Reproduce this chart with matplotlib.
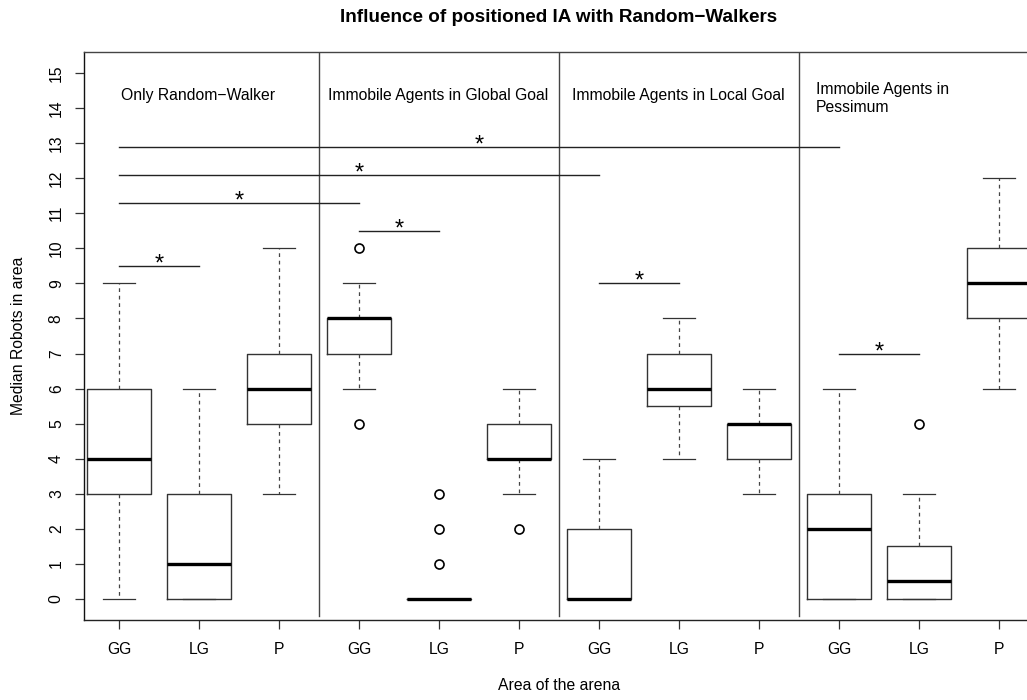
import matplotlib
matplotlib.use('Agg')
import matplotlib.pyplot as plt

plt.rcParams['font.family'] = ['Liberation Sans', 'DejaVu Sans']

# box statistics (12 boxes, 4 groups of GG/LG/P)
tick_labels = ['GG', 'LG', 'P'] * 4
whisker_lo = [0, 0, 3, 6, 0, 3, 0, 4, 3, 0, 0, 6]
q1 = [3, 0, 5, 7, 0, 4, 0, 5.5, 4, 0, 0, 8]
medians = [4, 1, 6, 8, 0, 4, 0, 6, 5, 2, 0.5, 9]
q3 = [6, 3, 7, 8, 0, 5, 2, 7, 5, 3, 1.5, 10]
whisker_hi = [9, 6, 10, 9, 0, 6, 4, 8, 6, 6, 3, 12]
outliers = [[], [], [], [5, 10], [1, 2, 3], [2], [], [], [], [], [5], []]

group_names = ['Only Random\u2212Walker', 'Immobile Agents in Global Goal',
               'Immobile Agents in Local Goal', 'Immobile Agents in\nPessimum']
group_label_x = [1.02, 3.61, 6.66, 9.71]
group_label_y = [14.37, 14.37, 14.37, 14.27]
separators = [3.5, 6.5, 9.5]

# significance bars: from box, to box, height
sig_from = [1, 1, 1, 1, 4, 7, 10]
sig_to = [2, 4, 7, 10, 5, 8, 11]
sig_y = [9.5, 11.3, 12.1, 12.9, 10.5, 9.0, 7.0]

fs = 11.3

fig = plt.figure(figsize=(10.27, 7.0), dpi=100)
# plot region runs slightly past the right edge, like the original
ax = fig.add_axes([84 / 1027, 80 / 700, 950 / 1027, 568 / 700])

stats = []
for i in range(len(medians)):
    stats.append({'whislo': whisker_lo[i], 'q1': q1[i], 'med': medians[i],
                  'q3': q3[i], 'whishi': whisker_hi[i], 'fliers': outliers[i]})

pos = list(range(1, len(medians) + 1))
ax.bxp(stats, positions=pos, widths=0.8, showfliers=True,
       boxprops=dict(color='#333333', linewidth=1.0),
       medianprops=dict(color='black', linewidth=2.4, solid_capstyle='butt'),
       whiskerprops=dict(color='#444444', linewidth=0.9, linestyle=(0, (3, 3))),
       capprops=dict(color='#333333', linewidth=0.9),
       capwidths=0.4,
       flierprops=dict(marker='o', markersize=6.5, markerfacecolor='none',
                       markeredgecolor='black', markeredgewidth=1.2))

for xs in separators:
    ax.plot([xs, xs], [-0.5, 15.6], color='#444444', lw=1.0)

for a, b, y in zip(sig_from, sig_to, sig_y):
    ax.plot([a, b], [y, y], color='#222222', lw=1.0)
    ax.text((a + b) / 2, y + 0.04, '*', ha='center', va='center',
            fontsize=17, color='black')

for x, y, name in zip(group_label_x, group_label_y, group_names):
    ax.text(x, y, name, ha='left', va='center', fontsize=fs,
            linespacing=1.2)

ax.set_xlim(0.56, 12.44)
ax.set_ylim(-0.6, 15.6)
ax.set_xticks(pos)
ax.set_xticklabels(tick_labels)
ax.set_yticks(range(0, 16))
ax.set_yticklabels([str(v) for v in range(0, 16)], rotation=90, va='center')
ax.tick_params(axis='both', direction='out', length=6.5, width=0.9,
               labelsize=fs, color='#333333')
ax.tick_params(axis='x', pad=9)
ax.tick_params(axis='y', pad=8)
for s in ax.spines.values():
    s.set_linewidth(1.0)
    s.set_color('#444444')
ax.spines['left'].set_color('#111111')
ax.spines['bottom'].set_color('#222222')

cx = (84 + 475) / 1027
fig.text(cx, 1 - 18 / 700, 'Influence of positioned IA with Random\u2212Walkers',
         ha='center', va='center', fontsize=fs * 1.2, fontweight='bold')
fig.text(cx, 1 - 686 / 700, 'Area of the arena', ha='center', va='center',
         fontsize=fs)
fig.text(19 / 1027, 1 - 336 / 700, 'Median Robots in area', ha='center',
         va='center', rotation=90, fontsize=fs)

fig.savefig('out.png', dpi=100)
